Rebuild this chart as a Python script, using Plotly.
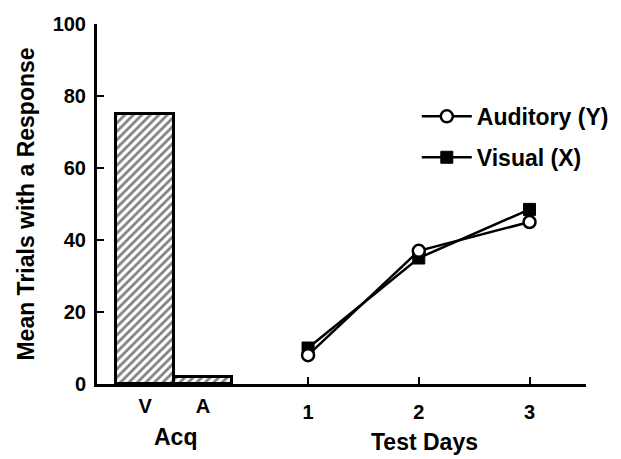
import plotly.graph_objects as go

# Data
acq_labels = ["V", "A"]
acq_values = [75, 2]
acq_pos = [-0.47, 0.05]
bar_width = 0.52

test_days = [1, 2, 3]
auditory_y = [8, 37, 45]
visual_x = [10, 35, 48.5]

y_ticks = [0, 20, 40, 60, 80, 100]

FONT = "Liberation Sans, Arial, sans-serif"
TF = dict(family=FONT, size=20, color="black", weight="bold")
LF = dict(family=FONT, size=23, color="black", weight="bold")

fig = go.Figure()

fig.add_trace(go.Bar(
    x=acq_pos, y=acq_values, width=bar_width,
    marker=dict(color="white",
                line=dict(color="black", width=3),
                pattern=dict(shape="/", fgcolor="black", bgcolor="white",
                             size=6, solidity=0.45)),
    showlegend=False, xaxis="x2",
))

fig.add_trace(go.Scatter(
    x=test_days, y=visual_x, mode="lines+markers", name="Visual (X)",
    line=dict(color="black", width=2.5),
    marker=dict(symbol="square", size=12, color="black",
                line=dict(color="black", width=1)),
    legendrank=2, legendgroup="v",
))
fig.add_trace(go.Scatter(
    x=test_days, y=auditory_y, mode="lines+markers", name="Auditory (Y)",
    line=dict(color="black", width=2.5),
    marker=dict(symbol="circle", size=12, color="white",
                line=dict(color="black", width=2.5)),
    legendrank=1, legendgroup="a",
))

xr = [-0.906, 3.51]
fig.update_layout(
    width=621, height=459,
    margin=dict(l=97, r=35, t=24, b=75, autoexpand=False),
    paper_bgcolor="white", plot_bgcolor="white",
    font=dict(family=FONT, size=20, color="black"),
    bargap=0,
    xaxis=dict(range=xr, tickvals=test_days, ticktext=[str(d) for d in test_days],
               ticks="inside", ticklen=7, tickwidth=2, tickcolor="black",
               showline=True, linecolor="black", linewidth=3,
               showgrid=False, zeroline=False, ticklabelstandoff=8,
               tickfont=TF),
    xaxis2=dict(range=xr, overlaying="x", anchor="y", side="bottom",
                tickvals=acq_pos, ticktext=acq_labels, ticks="",
                showline=False, showgrid=False, zeroline=False,
                ticklabelstandoff=8, tickfont=TF),
    yaxis=dict(range=[0, 100], tickvals=y_ticks,
               ticks="inside", ticklen=7, tickwidth=2, tickcolor="black",
               showline=True, linecolor="black", linewidth=3,
               showgrid=False, zeroline=False, ticklabelstandoff=4,
               tickfont=TF,
               title=dict(text="Mean Trials with a Response", font=LF, standoff=12)),
    legend=dict(x=0.654, y=0.803, xanchor="left", yanchor="top",
                bgcolor="rgba(0,0,0,0)", itemwidth=50,
                font=LF, tracegroupgap=8, traceorder="grouped"),
    annotations=[
        dict(text="Acq", x=0.16, xref="paper", y=-0.148, yref="paper",
             xanchor="center", yanchor="middle", showarrow=False, font=LF),
        dict(text="Test Days", x=0.67, xref="paper", y=-0.162, yref="paper",
             xanchor="center", yanchor="middle", showarrow=False, font=LF),
    ],
)

fig.write_html("out.html")
